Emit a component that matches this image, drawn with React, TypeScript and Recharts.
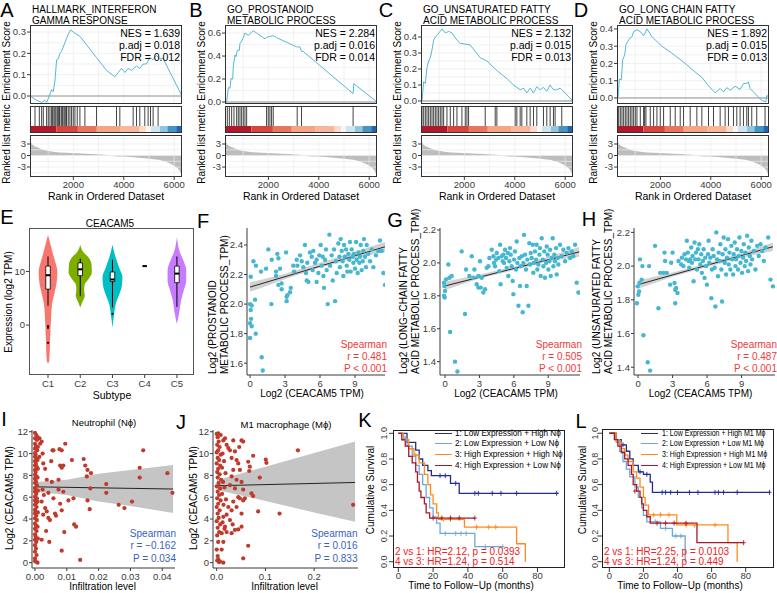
import React from 'react';
import { ComposedChart, Line, Area, Scatter, XAxis, YAxis, ReferenceLine, ReferenceArea } from 'recharts';

const FONT = '"Liberation Sans", Arial, Helvetica, sans-serif';
const INK = '#3a3a3a';
const PAD = 6;

// ---------- A-D : GSEA ----------
const gseaTitles = [
  ['HALLMARK_INTERFERON', 'GAMMA RESPONSE'],
  ['GO_PROSTANOID', 'METABOLIC PROCESS'],
  ['GO_UNSATURATED FATTY', 'ACID METABOLIC PROCESS'],
  ['GO_LONG CHAIN FATTY', 'ACID METABOLIC PROCESS'],
];
const gseaStats = [
  ['1.639', '0.018', '0.012'],
  ['2.284', '0.016', '0.014'],
  ['2.132', '0.015', '0.013'],
  ['1.892', '0.015', '0.013'],
];
const esA = [[200, 0], [464, -0.02], [662, -0.03], [794, -0.02], [860, -0.03], [966, 0], [1058, 0.03], [1124, 0.02], [1190, 0.07], [1256, 0.17], [1322, 0.175], [1388, 0.2], [1454, 0.21], [1586, 0.25], [1718, 0.29], [1810, 0.31], [1916, 0.3], [2180, 0.28], [2840, 0.18], [2972, 0.16], [3236, 0.12], [3566, 0.09], [3698, 0.11], [3830, 0.13], [3962, 0.11], [4094, 0.13], [4226, 0.12], [4424, 0.14], [4556, 0.13], [4688, 0.15], [4820, 0.15], [4952, 0.18], [5084, 0.17], [5216, 0.19], [5348, 0.175], [5480, 0.175], [6230, 0]];
const esB = [[200, 0], [266, 0], [332, 0.125], [398, 0.12], [438, 0.205], [504, 0.2], [530, 0.31], [596, 0.41], [636, 0.395], [688, 0.45], [768, 0.45], [794, 0.51], [860, 0.53], [926, 0.56], [992, 0.6], [1124, 0.58], [1322, 0.62], [1454, 0.6], [1784, 0.55], [1876, 0.565], [1982, 0.57], [2114, 0.577], [2246, 0.56], [3038, 0.48], [3170, 0.48], [3236, 0.44], [3302, 0.44], [5282, 0.073], [5308, 0.16], [6230, 0]];
const esC = [[200, 0], [240, 0], [306, 0.12], [372, 0.11], [438, 0.21], [504, 0.25], [570, 0.27], [636, 0.32], [702, 0.38], [768, 0.4], [834, 0.41], [1032, 0.45], [1164, 0.425], [1296, 0.435], [1428, 0.425], [1626, 0.38], [1758, 0.36], [2154, 0.35], [2550, 0.27], [2814, 0.25], [3210, 0.19], [3606, 0.14], [3870, 0.1], [4134, 0.07], [4266, 0.08], [4398, 0.05], [4530, 0.08], [4662, 0.05], [4794, 0.09], [4926, 0.07], [5058, 0.085], [5190, 0.06], [5322, 0.1], [5454, 0.07], [5586, 0.07], [5718, 0.08], [5916, 0.05], [6230, 0]];
const esD = [[200, 0], [240, 0], [292, 0.11], [372, 0.105], [424, 0.22], [504, 0.25], [556, 0.31], [636, 0.33], [728, 0.35], [794, 0.355], [860, 0.385], [992, 0.395], [1124, 0.385], [1256, 0.36], [1388, 0.4], [1586, 0.355], [1982, 0.3], [2378, 0.26], [2906, 0.2], [3302, 0.15], [3566, 0.12], [3830, 0.07], [4094, 0.03], [4292, 0.055], [4424, 0.035], [4556, 0.06], [4688, 0.045], [4886, 0.068], [5084, 0.05], [5216, 0.083], [5348, 0.085], [5414, 0.093], [5480, 0.055], [5942, -0.014], [6100, -0.023], [6140, 0.015], [6230, 0.005]];

const hitsA = [398, 570, 662, 728, 860, 926, 992, 1058, 1098, 1150, 1190, 1230, 1282, 1322, 1362, 1388, 1454, 1494, 1546, 1586, 1626, 1652, 1718, 1784, 1850, 1916, 1982, 2074, 2180, 2378, 2840, 3632, 3764, 4292, 4424, 4556, 4754, 4886, 4980, 5084, 5282];
const hitsB = [292, 372, 464, 556, 662, 728, 794, 860, 926, 992, 1058, 1850, 1916, 1982, 2048, 2114, 3064, 3236, 5282];
const hitsC = [240, 306, 372, 438, 504, 570, 636, 702, 768, 834, 900, 966, 1032, 1098, 1230, 1362, 1494, 1626, 1824, 1956, 2022, 2088, 2748, 3144, 3210, 3936, 4002, 4134, 4200, 4398, 4530, 4662, 4794, 5058, 5190, 5322, 5454, 5520, 5784];
const hitsD = [266, 332, 398, 464, 530, 596, 662, 728, 794, 860, 926, 992, 1124, 1256, 1296, 1348, 1520, 1652, 1784, 1916, 2048, 2312, 2510, 2708, 2840, 3104, 3368, 3566, 3830, 4028, 4292, 4490, 4622, 4820, 4952, 5084, 5216, 5348, 5414, 5546, 5744, 6074];

const rankedMetric = [[200, 4.3], [266, 3.2], [332, 2.7], [464, 2.2], [728, 1.5], [1124, 1.0], [1652, 0.7], [2444, 0.45], [2972, 0.25], [3368, 0.05], [3434, -0.15], [4292, -0.45], [4952, -0.85], [5480, -1.4], [5744, -2.0], [5942, -2.8], [6113, -3.8], [6180, -4.7], [6230, -5.5]];
const colourBar: [number, number, string][] = [
  [200, 1250, '#b2182b'], [1250, 2100, '#d6453d'], [2100, 2850, '#e8765c'], [2850, 3800, '#f4a582'],
  [3800, 4550, '#f7b79b'], [4550, 4800, '#fddbc7'], [4800, 5000, '#f7f7f7'], [5000, 5350, '#d1e5f0'],
  [5350, 5650, '#92c5de'], [5650, 6000, '#4393c3'], [6000, 6230, '#2166ac'],
];
const rankTicks = [2000, 4000, 6000];

// ---------- E : violin ----------
const subtypes = ['C1', 'C2', 'C3', 'C4', 'C5'];
const violinC1 = [[-7.2, 0], [-6.6, 0.04], [-3.5, 0.06], [-0.4, 0.08], [2, 0.1], [3.9, 0.125], [5.7, 0.19], [7.6, 0.26], [10, 0.29], [11, 0.26], [13.1, 0.16], [15, 0.08], [16.8, 0]];
const violinC2 = [[3.3, 0], [4.2, 0.06], [5.5, 0.14], [6.6, 0.12], [7.6, 0.14], [8.6, 0.26], [9.8, 0.36], [11.3, 0.35], [12.6, 0.26], [13.6, 0.1], [15, 0]];
const violinC3 = [[-0.5, 0], [2, 0.05], [3.9, 0.1], [5.7, 0.21], [7.3, 0.29], [8.9, 0.31], [10.7, 0.21], [12.6, 0.1], [15, 0]];
const violinC5 = [[0.2, 0], [2.6, 0.08], [4.5, 0.125], [6.4, 0.21], [8.2, 0.29], [10.2, 0.29], [11.9, 0.21], [13.8, 0.08], [16.4, 0]];
// [position, lower whisker, q1, median, q3, upper whisker]
const boxStats = [[1, 3.6, 6.7, 9.3, 11.0, 12.8], [2, 5.4, 9.2, 10.4, 11.6, 12.4], [3, 3.3, 8.1, 8.5, 9.9, 12.2], [4, 11.0, 11.0, 11.0, 11.0, 11.0], [5, 3.4, 7.9, 9.6, 11.0, 12.8]];
const outliersE = [[1, -0.2], [1, -0.5], [1, -3.3], [3, 2.1]];

// ---------- F-H : correlation ----------
const fPts = [[0.06, 2.185], [0, 2.0], [0.14, 1.99], [0.06, 1.96], [0.09, 1.9], [0, 1.87], [0.14, 1.85], [0, 1.77], [0.49, 1.8], [0.29, 2.29], [0.51, 2.26], [1.0, 1.64], [1.09, 1.55], [0.43, 2.03], [0.94, 2.22], [1.37, 2.24], [1.57, 2.37], [1.86, 2.3], [1.83, 2.0], [2.34, 2.34], [2.43, 2.31], [2.57, 2.24], [2.23, 2.22], [2.23, 2.19], [2.71, 2.14], [2.43, 2.13], [3.2, 2.06], [3.14, 2.02], [3.43, 2.08], [3.49, 2.11], [3.09, 2.35], [3.77, 2.22], [3.71, 2.26], [4.0, 2.3], [4.06, 2.26], [4.29, 2.33], [4.43, 2.29], [4.57, 2.25], [4.71, 2.4], [4.8, 2.21], [4.86, 2.16], [4.91, 2.28], [5.0, 2.15], [5.14, 2.35], [5.29, 2.32], [5.37, 2.23], [5.43, 2.36], [5.57, 2.28], [5.71, 2.3], [5.71, 2.15], [5.86, 2.21], [5.94, 2.33], [6.06, 2.4], [6.14, 2.26], [6.23, 2.32], [6.29, 2.19], [6.34, 2.11], [6.43, 2.3], [6.51, 2.37], [6.57, 2.23], [6.66, 2.0], [6.8, 2.47], [6.86, 2.26], [7.0, 2.33], [7.09, 2.16], [7.2, 2.37], [7.29, 2.02], [7.37, 2.29], [7.43, 2.21], [7.57, 2.41], [7.66, 2.32], [7.71, 2.25], [7.77, 2.44], [7.86, 2.36], [7.94, 2.29], [8.0, 2.19], [8.06, 2.4], [8.14, 2.32], [8.23, 2.37], [8.29, 2.26], [8.34, 2.22], [8.43, 2.34], [8.51, 2.3], [8.57, 2.42], [8.63, 2.22], [8.71, 2.37], [8.8, 2.32], [8.86, 2.28], [8.91, 2.34], [9.0, 2.24], [9.09, 2.42], [9.14, 2.3], [9.23, 2.21], [9.29, 2.35], [9.37, 2.28], [9.43, 2.32], [9.49, 2.4], [9.57, 2.23], [9.66, 2.29], [9.71, 2.36], [9.77, 2.44], [9.86, 2.32], [9.94, 2.25], [10.0, 2.4], [10.14, 2.34], [10.29, 2.29], [10.43, 2.37], [10.57, 2.25], [10.8, 2.33], [11.0, 2.36], [11.14, 2.43], [11.29, 2.36], [11.43, 2.21], [11.57, 2.13], [2.71, 2.1], [3.14, 2.05]];
const gPts = [[-0.09, 1.88], [-0.06, 1.86], [0, 1.83], [-0.09, 1.8], [-0.03, 1.79], [0.09, 1.9], [0.29, 1.99], [0.38, 1.91], [0.44, 1.58], [0.58, 1.92], [0.87, 1.4], [1.08, 1.34], [1.45, 2.07], [1.83, 1.96], [2.12, 1.92], [1.74, 1.69], [2.33, 2.04], [2.47, 1.91], [2.56, 1.96], [2.76, 1.87], [2.91, 1.92], [3.05, 2.01], [2.91, 1.85], [3.11, 1.85], [3.2, 1.91], [3.34, 1.82], [3.49, 1.84], [3.63, 1.97], [3.78, 1.98], [3.87, 2.03], [4.07, 2.08], [4.22, 2.04], [4.27, 2.0], [4.36, 1.98], [4.45, 2.02], [4.51, 2.06], [4.65, 2.03], [4.74, 1.95], [4.8, 2.11], [4.85, 1.87], [4.94, 2.04], [5.03, 2.01], [5.09, 2.05], [5.15, 2.0], [5.23, 2.08], [5.32, 2.03], [5.38, 1.97], [5.47, 2.06], [5.52, 1.92], [5.61, 2.01], [5.67, 2.09], [5.73, 2.05], [5.81, 1.98], [5.9, 1.89], [5.96, 1.81], [6.02, 2.02], [6.1, 2.07], [6.19, 1.96], [6.25, 2.13], [6.31, 2.0], [6.4, 1.74], [6.48, 2.03], [6.54, 1.86], [6.6, 1.98], [6.69, 2.04], [6.77, 1.7], [6.83, 2.0], [6.89, 2.17], [6.98, 2.05], [7.06, 1.96], [7.12, 1.86], [7.18, 2.02], [7.27, 1.74], [7.35, 2.12], [7.41, 1.99], [7.47, 2.06], [7.56, 2.03], [7.65, 2.11], [7.7, 1.94], [7.76, 2.0], [7.85, 2.07], [7.94, 2.02], [7.99, 2.11], [8.05, 1.96], [8.14, 1.99], [8.23, 2.05], [8.28, 2.09], [8.34, 1.92], [8.43, 2.15], [8.52, 2.02], [8.58, 1.98], [8.66, 2.07], [8.72, 1.91], [8.81, 2.0], [8.87, 2.1], [8.95, 2.05], [9.01, 1.96], [9.1, 2.01], [9.16, 2.08], [9.22, 1.92], [9.3, 2.03], [9.39, 2.15], [9.45, 1.98], [9.53, 2.05], [9.59, 2.01], [9.68, 2.09], [9.74, 1.93], [9.83, 2.03], [9.88, 1.99], [10.03, 2.11], [10.17, 2.04], [10.32, 2.08], [10.47, 2.01], [10.61, 2.06], [10.76, 2.09], [10.9, 2.03], [11.05, 2.07], [11.19, 2.04], [11.34, 2.11], [11.48, 1.88], [11.63, 1.82]];
const hPts = [[-0.1, 1.78], [0.03, 1.83], [0.09, 1.85], [-0.03, 1.88], [0.12, 1.9], [0.17, 2.04], [0.32, 1.92], [0.47, 1.59], [0.38, 2.0], [0.84, 1.43], [1.05, 1.38], [0.96, 2.0], [1.48, 2.12], [1.77, 1.75], [1.92, 1.96], [2.21, 1.96], [2.3, 2.08], [2.35, 2.03], [2.5, 1.96], [2.79, 1.89], [2.88, 2.02], [3.0, 2.08], [3.17, 1.9], [3.23, 1.86], [3.31, 1.87], [3.43, 1.84], [3.23, 1.78], [3.52, 2.03], [3.75, 2.01], [3.81, 2.05], [3.95, 2.0], [4.04, 2.07], [4.16, 2.04], [4.24, 2.15], [4.33, 2.08], [4.39, 2.03], [4.45, 1.99], [4.53, 2.04], [4.62, 2.11], [4.68, 2.02], [4.74, 2.06], [4.83, 1.91], [4.91, 2.14], [4.97, 2.04], [5.03, 2.08], [5.12, 1.98], [5.2, 2.1], [5.26, 2.04], [5.32, 2.13], [5.41, 2.01], [5.49, 2.07], [5.55, 1.96], [5.64, 2.03], [5.7, 2.1], [5.78, 1.93], [5.84, 2.05], [5.9, 2.0], [5.99, 1.89], [6.08, 2.07], [6.13, 2.15], [6.19, 2.02], [6.28, 2.05], [6.37, 1.81], [6.42, 1.98], [6.48, 2.1], [6.57, 2.06], [6.66, 1.99], [6.72, 1.76], [6.8, 2.2], [6.86, 2.04], [6.95, 1.94], [7.01, 2.08], [7.09, 2.03], [7.15, 2.13], [7.24, 1.98], [7.3, 1.79], [7.35, 2.07], [7.44, 2.17], [7.53, 2.02], [7.59, 2.1], [7.65, 1.95], [7.73, 2.05], [7.82, 2.16], [7.88, 2.01], [7.94, 2.08], [8.02, 1.98], [8.11, 2.12], [8.17, 2.04], [8.26, 1.95], [8.31, 2.07], [8.4, 2.14], [8.46, 2.0], [8.52, 2.04], [8.6, 2.1], [8.69, 1.98], [8.75, 2.06], [8.81, 2.17], [8.9, 2.02], [8.98, 2.09], [9.04, 1.96], [9.13, 2.05], [9.19, 2.13], [9.27, 2.0], [9.33, 2.08], [9.39, 2.03], [9.48, 2.18], [9.56, 1.97], [9.62, 2.11], [9.71, 2.06], [9.77, 2.01], [9.85, 2.15], [9.91, 2.04], [10.06, 2.09], [10.2, 1.98], [10.35, 2.12], [10.49, 2.06], [10.64, 2.13], [10.78, 2.09], [10.93, 2.03], [11.08, 2.11], [11.31, 2.17], [11.51, 1.92], [11.72, 1.88]];
const fBand = [[0, 2.083, 2.147], [3, 2.168, 2.205], [6, 2.248, 2.28], [9, 2.31, 2.355], [11.57, 2.355, 2.42]];
const gBand = [[0, 1.835, 1.885], [3, 1.905, 1.93], [6, 1.957, 1.978], [9, 2.01, 2.038], [11.7, 2.037, 2.097]];
const hBand = [[0, 1.865, 1.915], [3, 1.937, 1.962], [6, 1.995, 2.016], [9, 2.05, 2.078], [11.72, 2.09, 2.14]];
const fFit = [[0, 2.115], [11.57, 2.388]];
const gFit = [[0, 1.86], [11.7, 2.067]];
const hFit = [[0, 1.89], [11.72, 2.115]];

// ---------- I-J : infiltration ----------
const iPts = [[0, 11.9], [0.0004, 11.7], [0, 11.4], [0.0006, 11.25], [0, 10.9], [0.0003, 10.7], [0, 10.45], [0.0007, 10.3], [0, 10.05], [0.0002, 9.9], [0, 9.7], [0.0005, 9.55], [0, 9.3], [0.0003, 9.05], [0, 8.9], [0.0006, 8.75], [0, 8.5], [0.0002, 8.3], [0, 8.05], [0.0005, 7.9], [0, 7.7], [0.0003, 7.45], [0, 7.3], [0.0006, 7.1], [0, 6.85], [0.0002, 6.7], [0, 6.5], [0.0004, 6.3], [0, 6.05], [0.0006, 5.9], [0, 5.7], [0.0003, 5.45], [0, 5.3], [0.0005, 5.1], [0, 4.85], [0.0002, 4.7], [0, 4.5], [0.0004, 4.3], [0, 4.05], [0.0006, 3.9], [0, 3.6], [0.0003, 3.4], [0, 3.1], [0.0005, 2.9], [0, 2.6], [0.0002, 2.4], [0, 2.1], [0.0004, 1.9], [0, 1.6], [0.0003, 1.3], [0, 1.0], [0.0005, 0.7], [0, 0.4], [0.0002, 0.1], [0.0008, 11.5], [0.0009, 10.6], [0.0008, 9.4], [0.0009, 8.6], [0.0008, 7.8], [0.0009, 6.6], [0.0008, 5.6], [0.0009, 4.6], [0.0008, 3.3], [0.0009, 2.2], [0.0008, 0.0], [0, 0.15],
  [0.0014, 9.7], [0.0016, 10.9], [0.0021, 11.1], [0.0014, 11.4], [0.0024, 10.0], [0.0026, 9.1], [0.0032, 8.6], [0.0037, 7.6], [0.0024, 6.7], [0.0028, 6.2], [0.0021, 5.6], [0.0032, 5.0], [0.0026, 4.4], [0.0037, 4.7], [0.0042, 4.1], [0.0047, 3.9], [0.0035, 2.9], [0.0021, 2.1], [0.0045, 1.9], [0.0053, 7.4], [0.0055, 10.3], [0.0058, 10.3], [0.0051, 9.3], [0.0042, 6.4], [0.0058, 5.9], [0.0063, 4.5], [0.0066, 4.3], [0.0074, 7.6], [0.0077, 10.4], [0.0084, 10.3], [0.0079, 8.9], [0.0084, 8.7], [0.0089, 8.9], [0.0074, 6.7], [0.0079, 5.4], [0.0084, 4.8], [0.0089, 6.5], [0.0092, 2.8], [0.0095, 10.9], [0.0084, 1.1], [0.0105, 5.7], [0.0116, 9.4], [0.0121, 5.9], [0.0123, 3.5], [0.0129, 3.3], [0.0142, 0.25], [0.0153, 9.5], [0.0158, 8.9], [0.0163, 7.9], [0.0165, 8.5], [0.0165, 5.7], [0.0172, 4.9], [0.0174, 6.8], [0.0176, 8.2], [0.0224, 6.4], [0.0224, 7.2], [0.0263, 5.3], [0.0281, 5.0], [0.0305, 5.6], [0.0329, 8.7], [0.0329, 7.8], [0.034, 10.3], [0.0416, 8.2], [0.0432, 6.4]];
const jPts = [[0, 11.8], [0.002, 11.5], [0.004, 11.1], [0.001, 10.8], [0.006, 10.6], [0.003, 10.3], [0, 10.1], [0.008, 9.9], [0.002, 9.6], [0.005, 9.4], [0, 9.1], [0.007, 8.9], [0.003, 8.6], [0.001, 8.3], [0.006, 8.1], [0.002, 7.8], [0.009, 7.6], [0.004, 7.3], [0, 7.0], [0.007, 6.8], [0.002, 6.5], [0.005, 6.2], [0.001, 5.9], [0.008, 5.7], [0.003, 5.4], [0, 5.1], [0.006, 4.8], [0.002, 4.5], [0.004, 4.1], [0, 3.8], [0.007, 3.5], [0.002, 3.2], [0.005, 2.8], [0.001, 2.5], [0.003, 1.9], [0, 1.2], [0.002, 0.6], [0.001, 0.2], [0.0045, 0.05], [0.012, 10.0], [0.015, 9.3], [0.011, 8.7], [0.018, 8.2], [0.013, 7.4], [0.016, 6.9], [0.011, 6.3], [0.019, 5.8], [0.014, 5.3], [0.012, 3.7], [0.016, 3.1],
  [0.0034, 11.85], [0.0082, 11.7], [0.0136, 11.2], [0.017, 11.4], [0.0204, 10.8], [0.0238, 10.5], [0.0272, 10.3], [0.0306, 9.6], [0.034, 11.2], [0.0374, 10.2], [0.0408, 9.4], [0.0442, 9.1], [0.0476, 8.5], [0.051, 11.2], [0.0544, 11.1], [0.0463, 10.6], [0.034, 8.5], [0.0306, 7.9], [0.0272, 7.1], [0.0374, 6.8], [0.0408, 7.6], [0.051, 7.4], [0.0544, 6.7], [0.0442, 6.0], [0.034, 5.6], [0.0238, 5.1], [0.0306, 4.8], [0.0204, 4.4], [0.0272, 3.9], [0.0136, 4.2], [0.017, 3.3], [0.0102, 2.7], [0.0204, 2.8], [0.0306, 2.7], [0.0374, 3.0], [0.0442, 3.05], [0.051, 3.3], [0.0136, 1.9], [0.0102, 1.2], [0.0068, 0.1], [0.0034, 0.3], [0.0136, 0.0], [0.0646, 9.25], [0.068, 8.8], [0.0748, 9.8], [0.0667, 8.4], [0.0714, 6.35], [0.0748, 6.1], [0.085, 4.7], [0.0884, 7.8], [0.1007, 9.45], [0.102, 9.15], [0.129, 4.5], [0.1667, 10.3], [0.28, 5.3], [0.0646, 1.55], [0.0544, 0.4], [0.0544, 5.7], [0.0578, 5.9], [0.0476, 5.9], [0.0408, 5.1], [0.051, 4.5], [0.0327, 3.5]];
const iBand = [[0, 6.5, 7.4], [0.01, 6.2, 7.6], [0.02, 5.6, 8.15], [0.03, 5.2, 8.5], [0.0434, 4.55, 8.95]];
const jBand = [[0, 6.67, 7.55], [0.1, 5.66, 8.8], [0.2, 4.6, 10.06], [0.284, 3.76, 11.1]];
const iFit = [[0, 6.95], [0.0434, 6.75]];
const jFit = [[0, 7.05], [0.284, 7.35]];

// ---------- K-L : survival ----------
const kmColors = ['#1f2d8f', '#6fa8d8', '#ff8a1c', '#a8172a'];
const kCurves = [
  [[0, 1], [5, 0.93], [10, 0.87], [12, 0.8], [14, 0.75], [17, 0.71], [19, 0.67], [30, 0.61], [35, 0.533], [92, 0.533]],
  [[0, 1], [3, 0.96], [5, 0.9], [8, 0.82], [10, 0.75], [12, 0.68], [14, 0.6], [16, 0.5], [18, 0.42], [20, 0.35], [22, 0.3], [24, 0.22], [44, 0.117], [60, 0.117]],
  [[0, 1], [3, 0.95], [6, 0.88], [9, 0.83], [12, 0.77], [15, 0.68], [17, 0.6], [18.5, 0.52], [20, 0.45], [22, 0.38], [23, 0.33], [38, 0.27], [68, 0.14], [73, 0]],
  [[0, 1], [2, 0.95], [4, 0.9], [6, 0.82], [8, 0.77], [10, 0.7], [11, 0.62], [12, 0.55], [13, 0.5], [15, 0.45], [16, 0.38], [18, 0.34], [44, 0.34]],
];
const kCensor = [
  [[24, 0.67], [27, 0.67], [33, 0.61], [44, 0.533], [46, 0.533], [54, 0.533], [59, 0.533], [68, 0.533], [91, 0.533]],
  [[4, 0.96], [27, 0.22], [33, 0.22], [36, 0.22], [39, 0.22], [50, 0.117], [60, 0.117]],
  [[10, 0.83], [26, 0.33], [30, 0.33], [45, 0.27], [52, 0.27], [56, 0.27]],
  [[20, 0.34], [25, 0.34], [30, 0.34], [35, 0.34], [44, 0.34]],
];
const lCurves = [
  [[0, 1], [4, 0.95], [7, 0.91], [10, 0.86], [12, 0.8], [14, 0.75], [17, 0.7], [20, 0.68], [24, 0.62], [25.3, 0.54], [94, 0.54]],
  [[0, 1], [3, 0.95], [6, 0.86], [8, 0.78], [10, 0.72], [12, 0.66], [15, 0.58], [17, 0.5], [19, 0.42], [20, 0.36], [22, 0.31], [30, 0.26], [37, 0.2], [44.5, 0]],
  [[0, 1], [4, 0.93], [7, 0.88], [9, 0.83], [11, 0.78], [14, 0.7], [16, 0.65], [18, 0.58], [20, 0.5], [21, 0.44], [23, 0.365], [39.6, 0.286], [69.6, 0.148], [75, 0]],
  [[0, 1], [3, 0.95], [5, 0.9], [7, 0.85], [9, 0.8], [11, 0.75], [13, 0.68], [14, 0.6], [16, 0.55], [18, 0.5], [19, 0.45], [20, 0.4], [22, 0.35], [24, 0.3], [51.4, 0.148], [78.8, 0.148]],
];
const lCensor = [
  [[8, 0.91], [18, 0.7], [22, 0.68], [31, 0.54], [33, 0.54], [36, 0.54], [40, 0.54], [47, 0.54], [52, 0.54], [62, 0.54], [64, 0.54], [67, 0.54], [75, 0.54], [94, 0.54]],
  [[27, 0.31], [33, 0.26], [39, 0.2], [42, 0.2]],
  [[26, 0.365], [30, 0.365], [35, 0.365], [45, 0.286], [50, 0.286], [62, 0.286]],
  [[15, 0.55], [28, 0.3], [33, 0.3], [38, 0.3], [45, 0.3], [78.8, 0.148]],
];
const kLegend = ['1: Low Expression + High N\u03d5', '2: Low Expression + Low N\u03d5', '3: High Expression + High N\u03d5', '4: High Expression + Low N\u03d5'];
const lLegend = ['1: Low Expression + High M1 M\u03d5', '2: Low Expression + Low M1 M\u03d5', '3: High Expression + High M1 M\u03d5', '4: High Expression + Low M1 M\u03d5'];

// ---------- helpers ----------
function frame(x: number, y: number, w: number, h: number, yW: number, xH: number) {
  return {
    style: { position: 'absolute' as const, left: x - yW - PAD, top: y - PAD },
    width: PAD + yW + w + PAD,
    height: PAD + h + xH + PAD,
    margin: { top: PAD, right: PAD, bottom: PAD, left: PAD },
  };
}

const tickStyle = { fontSize: 9.5, fill: INK, fontFamily: FONT };
const axisBase = { tick: tickStyle, tickLine: { stroke: INK }, tickSize: 3, interval: 0 as const, allowDataOverflow: true };

function T({ x, y, children, size = 10, color = '#000', anchor = 'middle', rotate = false, sx = 1 }: any) {
  const tx = anchor === 'start' ? '0' : anchor === 'end' ? '-100%' : '-50%';
  return (
    <div style={{ position: 'absolute', left: x, top: y, fontSize: size, color, lineHeight: 1, whiteSpace: 'nowrap', transformOrigin: anchor === 'start' ? '0 50%' : '50% 50%', transform: `translate(${tx}, -50%)${rotate ? ' rotate(-90deg)' : ''}${sx !== 1 ? ` scaleX(${sx})` : ''}` }}>
      {children}
    </div>
  );
}

function Box({ x, y, w, h, color = '#333' }: any) {
  return <div style={{ position: 'absolute', left: x, top: y, width: w, height: h, border: `1px solid ${color}`, boxSizing: 'border-box', pointerEvents: 'none' }} />;
}

const dotShape = (color: string, r: number) => (p: any) => <circle cx={p.cx} cy={p.cy} r={r} fill={color} />;
const rugShape = (p: any) => <line x1={p.cx} x2={p.cx} y1={p.cy - 10} y2={p.cy + 10} stroke="#111" strokeWidth={0.8} />;
const censorShape = (color: string) => (p: any) => (
  <path d={`M${p.cx},${p.cy - 2.5}V${p.cy + 2.5}M${p.cx - 2},${p.cy}H${p.cx + 2}`} stroke={color} strokeWidth={0.9} fill="none" />
);

// ---------- GSEA panel ----------
const gseaLeft = [30, 225, 421, 617];
const GW = 152;
const RANK_DOMAIN = [280, 6310];
const esDomains = [[-0.0375, 0.333], [-0.017, 0.67], [-0.019, 0.475], [-0.035, 0.423]];
const esTicks = [[0, 0.1, 0.2, 0.3], [0, 0.2, 0.4, 0.6], [0, 0.1, 0.2, 0.3, 0.4], [0, 0.1, 0.2, 0.3, 0.4]];
const esGrid = [
  [0.05, 0.1, 0.15, 0.2, 0.25, 0.3],
  [0.1, 0.2, 0.3, 0.4, 0.5, 0.6],
  [0.05, 0.1, 0.15, 0.2, 0.25, 0.3, 0.35, 0.4, 0.45],
  [0.05, 0.1, 0.15, 0.2, 0.25, 0.3, 0.35, 0.4],
];
const rankGrid = [1000, 2000, 3000, 4000, 5000, 6000];
const metricGrid = [-4.5, -3, -1.5, 0, 1.5, 3, 4.5];

function GseaPanel({ i }: { i: number }) {
  const x0 = gseaLeft[i];
  const es = [esA, esB, esC, esD][i].map(([r, v]) => ({ r: r + 80, es: v }));
  const hits = [hitsA, hitsB, hitsC, hitsD][i].map((r) => ({ r: r + 80, y: 0.63 }));
  const metric = rankedMetric.map(([r, m]) => ({ r: r + 80, m }));
  const fEs = frame(x0, 25, GW, 79, 30, 0);
  const fRug = frame(x0, 106, GW, 27, 0, 0);
  const fRk = frame(x0, 135, GW, 42, 30, 16);
  const [nes, padj, fdr] = gseaStats[i];
  return (
    <>
      <div style={fEs.style}>
        <ComposedChart width={fEs.width} height={fEs.height} margin={fEs.margin}>
          <XAxis type="number" dataKey="r" domain={RANK_DOMAIN} hide allowDataOverflow />
          <YAxis type="number" domain={esDomains[i]} ticks={esTicks[i]} width={30} tickMargin={1} axisLine={false} tickFormatter={(v: number) => v.toFixed(1)} {...axisBase} />
          {rankGrid.map((g) => <ReferenceLine key={'v' + g} x={g} stroke="#ebebeb" strokeWidth={0.7} />)}
          {esGrid[i].map((g) => <ReferenceLine key={'h' + g} y={g} stroke="#ebebeb" strokeWidth={0.7} />)}
          <ReferenceLine y={0} stroke="#8c8c8c" strokeWidth={1} />
          <Line data={es} dataKey="es" type="linear" stroke="#55b8d6" strokeWidth={1} dot={false} isAnimationActive={false} />
        </ComposedChart>
      </div>
      <div style={fRug.style}>
        <ComposedChart width={fRug.width} height={fRug.height} margin={fRug.margin}>
          <XAxis type="number" dataKey="r" domain={RANK_DOMAIN} hide allowDataOverflow />
          <YAxis type="number" dataKey="y" domain={[0, 1]} hide allowDataOverflow />
          {colourBar.map(([a, b, c]) => <ReferenceArea key={a} x1={a + 80} x2={b + 80} y1={0} y2={0.26} fill={c} fillOpacity={1} stroke="none" />)}
          <Scatter data={hits} shape={rugShape} isAnimationActive={false} />
        </ComposedChart>
      </div>
      <div style={fRk.style}>
        <ComposedChart width={fRk.width} height={fRk.height} margin={fRk.margin}>
          <XAxis type="number" dataKey="r" domain={RANK_DOMAIN} ticks={rankTicks} height={16} axisLine={false} tickMargin={1} {...axisBase} />
          <YAxis type="number" domain={[-5.6, 5.35]} ticks={[-3, 0, 3]} width={30} tickMargin={1} axisLine={false} {...axisBase} />
          {rankGrid.map((g) => <ReferenceLine key={'v' + g} x={g} stroke="#ebebeb" strokeWidth={0.7} />)}
          {metricGrid.map((g) => <ReferenceLine key={'h' + g} y={g} stroke="#ebebeb" strokeWidth={0.7} />)}
          <Area data={metric} dataKey="m" type="monotone" baseValue={0} fill="#bdbdbd" fillOpacity={1} stroke="none" isAnimationActive={false} />
        </ComposedChart>
      </div>
      <Box x={x0} y={25} w={GW} h={79} />
      <Box x={x0} y={106} w={GW} h={27} />
      <Box x={x0} y={135} w={GW} h={42} />
      <T x={x0 + 2} y={10} anchor="start" size={10}>{gseaTitles[i][0]}</T>
      <T x={x0 + 2} y={20.5} anchor="start" size={10}>{gseaTitles[i][1]}</T>
      <T x={x0 + GW - 2} y={33} anchor="end" size={10.5}>{`NES = ${nes}`}</T>
      <T x={x0 + GW - 2} y={45} anchor="end" size={10.5}>{`p.adj = ${padj}`}</T>
      <T x={x0 + GW - 2} y={57} anchor="end" size={10.5}>{`FDR = ${fdr}`}</T>
      <T x={x0 - 23} y={61} rotate size={10}>Enrichment Score</T>
      <T x={x0 - 23} y={144} rotate size={10}>Ranked list metric</T>
      <T x={x0 + GW / 2} y={195.5} size={10.5}>Rank in Ordered Dataset</T>
    </>
  );
}

// ---------- E panel ----------
const violins = [
  { pos: 1, color: '#F8766D', profile: violinC1 },
  { pos: 2, color: '#7CAE00', profile: violinC2 },
  { pos: 3, color: '#00BFC4', profile: violinC3 },
  { pos: 5, color: '#C77CFF', profile: violinC5 },
];
const BW = 0.07;

function ViolinPanel() {
  const f = frame(29, 228, 165, 147, 30, 16);
  return (
    <>
      <div style={f.style}>
        <ComposedChart layout="vertical" width={f.width} height={f.height} margin={f.margin}>
          <XAxis type="number" domain={[0.41, 5.53]} ticks={[1, 2, 3, 4, 5]} tickFormatter={(v: number) => subtypes[v - 1]} height={16} axisLine={false} {...axisBase} />
          <YAxis type="number" dataKey="y" domain={[-9.3, 18.1]} ticks={[0, 10]} width={30} tickMargin={1} axisLine={false} reversed {...axisBase} />
          {violins.map((v) => (
            <Area key={'vio' + v.pos} data={v.profile.map(([y, w]) => ({ y, r: [v.pos - w, v.pos + w] }))} dataKey="r" type="monotone" fill={v.color} fillOpacity={1} stroke="none" isAnimationActive={false} />
          ))}
          {boxStats.filter((b) => b[2] !== b[4]).map(([c, , q1, , q3]) => (
            <Area key={'bx' + c} data={[{ y: q1, r: [c - BW, c + BW] }, { y: q3, r: [c - BW, c + BW] }]} dataKey="r" type="linear" fill="#fff" fillOpacity={1} stroke="none" isAnimationActive={false} />
          ))}
          {boxStats.filter((b) => b[2] !== b[4]).map(([c, lo, q1, , q3, hi]) => [
            <Line key={'wl' + c} data={[{ y: lo, v: c }, { y: q1, v: c }]} dataKey="v" type="linear" stroke="#000" strokeWidth={1} dot={false} isAnimationActive={false} />,
            <Line key={'wh' + c} data={[{ y: q3, v: c }, { y: hi, v: c }]} dataKey="v" type="linear" stroke="#000" strokeWidth={1} dot={false} isAnimationActive={false} />,
            <Line key={'bo' + c} data={[{ y: q1, v: c - BW }, { y: q1, v: c + BW }, { y: q3, v: c + BW }, { y: q3, v: c - BW }, { y: q1, v: c - BW }]} dataKey="v" type="linear" stroke="#000" strokeWidth={0.8} dot={false} isAnimationActive={false} />,
          ])}
          {boxStats.map(([c, , , md]) => (
            <Line key={'md' + c} data={[{ y: md, v: c - BW }, { y: md, v: c + BW }]} dataKey="v" type="linear" stroke="#000" strokeWidth={2} dot={false} isAnimationActive={false} />
          ))}
          <Scatter data={outliersE.map(([c, y]) => ({ v: c, y }))} dataKey="v" shape={dotShape('#000', 1.1)} isAnimationActive={false} />
        </ComposedChart>
      </div>
      <Box x={29} y={228} w={165} h={147} color="#555" />
      <T x={110} y={224} size={10}>CEACAM5</T>
      <T x={8.5} y={302} rotate size={10}>Expression (log2 TPM)</T>
      <T x={112} y={395} size={10.5}>Subtype</T>
    </>
  );
}

// ---------- F-H panels ----------
const corrPanels = [
  { key: 'F', x: 247, w: 138, xDom: [-0.26, 11.57], yDom: [1.52, 2.515], yTicks: [1.6, 1.8, 2.0, 2.2, 2.4], pts: fPts, band: fBand, fit: fFit, lines: ['Log2 (PROSTANOID', 'METABOLIC PROCESS_TPM)'], lx: 207, r: '0.481' },
  { key: 'G', x: 440, w: 140, xDom: [-0.44, 11.77], yDom: [1.319, 2.212], yTicks: [1.4, 1.6, 1.8, 2.0, 2.2], pts: gPts, band: gBand, fit: gFit, lines: ['Log2 (LONG\u2212CHAIN FATTY', 'ACID METABOLIC PROCESS_TPM)'], lx: 398, r: '0.505' },
  { key: 'H', x: 634, w: 141, xDom: [-0.35, 11.9], yDom: [1.354, 2.226], yTicks: [1.4, 1.6, 1.8, 2.0, 2.2], pts: hPts, band: hBand, fit: hFit, lines: ['Log2 (UNSATURATED FATTY', 'ACID METABOLIC PROCESS_TPM)'], lx: 591, r: '0.487' },
];

function CorrPanel({ c }: any) {
  const f = frame(c.x, 228, c.w, 147, 30, 16);
  const right = c.x + c.w + 2;
  return (
    <>
      <div style={f.style}>
        <ComposedChart width={f.width} height={f.height} margin={f.margin}>
          <XAxis type="number" dataKey="x" domain={c.xDom} ticks={[0, 3, 6, 9]} height={16} axisLine={{ stroke: INK }} {...axisBase} />
          <YAxis type="number" dataKey="y" domain={c.yDom} ticks={c.yTicks} width={30} tickMargin={1} axisLine={{ stroke: INK }} tickFormatter={(v: number) => v.toFixed(1)} {...axisBase} />
          <Scatter data={c.pts.map(([x, y]: number[]) => ({ x, y }))} shape={dotShape('#45b7d0', 2.2)} isAnimationActive={false} />
          <Area data={c.band.map(([x, lo, hi]: number[]) => ({ x, b: [lo, hi] }))} dataKey="b" type="linear" fill="#9a9a9a" fillOpacity={0.45} stroke="none" isAnimationActive={false} />
          <Line data={c.fit.map(([x, y]: number[]) => ({ x, y }))} dataKey="y" type="linear" stroke="#111" strokeWidth={0.9} dot={false} isAnimationActive={false} />
        </ComposedChart>
      </div>
      <div style={{ position: 'absolute', left: c.lx, top: 374, transformOrigin: '0 0', transform: 'rotate(-90deg)', fontSize: 10, lineHeight: '11.8px', whiteSpace: 'nowrap' }}>
        {c.lines.map((l: string) => <div key={l}>{l}</div>)}
      </div>
      <T x={c.x + c.w / 2 - 4} y={394} size={10}>Log2 (CEACAM5 TPM)</T>
      <T x={right} y={345} anchor="end" size={10} color="#f03a3a">Spearman</T>
      <T x={right} y={357} anchor="end" size={10} color="#f03a3a">{`r = ${c.r}`}</T>
      <T x={right} y={368.5} anchor="end" size={10} color="#f03a3a">P &lt; 0.001</T>
    </>
  );
}

// ---------- I-J panels ----------
const infilPanels = [
  { key: 'I', x: 32, w: 143, xDom: [-0.00094, 0.044], xTicks: [0, 0.01, 0.02, 0.03, 0.04], dec: 2, pts: iPts, band: iBand, fit: iFit, title: 'Neutrophil (N\u03d5)', tx: 104, ty: 423, ly: 10, r: '\u22120.162', p: '0.034', sr: 176 },
  { key: 'J', x: 213, w: 145, xDom: [-0.0076, 0.29], xTicks: [0, 0.1, 0.2], dec: 1, pts: jPts, band: jBand, fit: jFit, title: 'M1 macrophage (M\u03d5)', tx: 286, ty: 425, ly: 194, r: '0.016', p: '0.833', sr: 357.5 },
];

function InfilPanel({ c }: any) {
  const f = frame(c.x, 430, c.w, 138, 30, 16);
  return (
    <>
      <div style={f.style}>
        <ComposedChart width={f.width} height={f.height} margin={f.margin}>
          <XAxis type="number" dataKey="x" domain={c.xDom} ticks={c.xTicks} height={16} axisLine={{ stroke: INK }} tickFormatter={(v: number) => v.toFixed(c.dec)} {...axisBase} />
          <YAxis type="number" dataKey="y" domain={[-0.49, 12.16]} ticks={[0, 2, 4, 6, 8, 10, 12]} width={30} tickMargin={1} axisLine={{ stroke: INK }} {...axisBase} />
          <Scatter data={c.pts.map(([x, y]: number[]) => ({ x, y }))} shape={dotShape('#c03a2c', 2.1)} isAnimationActive={false} />
          <Area data={c.band.map(([x, lo, hi]: number[]) => ({ x, b: [lo, hi] }))} dataKey="b" type="linear" fill="#9e9e9e" fillOpacity={0.6} stroke="none" isAnimationActive={false} />
          <Line data={c.fit.map(([x, y]: number[]) => ({ x, y }))} dataKey="y" type="linear" stroke="#111" strokeWidth={0.9} dot={false} isAnimationActive={false} />
        </ComposedChart>
      </div>
      <T x={c.tx} y={c.ty} size={9.5}>{c.title}</T>
      <T x={c.ly} y={498} rotate size={10}>Log2 (CEACAM5 TPM)</T>
      <T x={c.x + c.w / 2 - 1} y={587} size={10}>Infiltration level</T>
      <T x={c.sr} y={534} anchor="end" size={10} color="#3a5fbd">Spearman</T>
      <T x={c.sr} y={546} anchor="end" size={10} color="#3a5fbd">{`r = ${c.r}`}</T>
      <T x={c.sr} y={558.5} anchor="end" size={10} color="#3a5fbd">{`P = ${c.p}`}</T>
    </>
  );
}

// ---------- K-L panels ----------
const kmPanels = [
  { key: 'K', x: 393, y: 430, w: 172, h: 138, xDom: [-3.05, 95.8], yDom: [-0.049, 1.026], curves: kCurves, censor: kCensor, legend: kLegend, lgLine: 435, lgText: 455, lgScale: 1, dx: 0, ylab: 371, hr: ['2 vs 1: HR=2.12, p = 0.0393', '4 vs 3: HR=1.24, p = 0.514'] },
  { key: 'L', x: 602, y: 429, w: 172, h: 139, xDom: [-4.3, 96.6], yDom: [-0.049, 1.033], curves: lCurves, censor: lCensor, legend: lLegend, lgLine: 641, lgText: 662, lgScale: 0.86, dx: 2, ylab: 583, hr: ['2 vs 1: HR=2.25, p = 0.0103', '4 vs 3: HR=1.24, p = 0.449'] },
];

function KmPanel({ c }: any) {
  const f = frame(c.x, c.y, c.w, c.h, 20, 16);
  const rotTick = (p: any) => {
    const bx = p.x + c.dx;
    return (
      <text x={bx} y={p.y} transform={`rotate(-90, ${bx}, ${p.y})`} textAnchor="middle" fontSize={9} fill={INK} fontFamily={FONT}>
        {Number(p.payload.value).toFixed(1)}
      </text>
    );
  };
  const rows = [433.5, 444.2, 455, 465.5];
  return (
    <>
      <div style={f.style}>
        <ComposedChart width={f.width} height={f.height} margin={f.margin}>
          <XAxis type="number" dataKey="t" domain={c.xDom} ticks={[0, 20, 40, 60, 80]} height={16} axisLine={false} {...axisBase} tickSize={4} tickMargin={0} />
          <YAxis type="number" dataKey="s" domain={c.yDom} ticks={[0, 0.2, 0.4, 0.6, 0.8, 1]} width={20} axisLine={false} {...axisBase} tickSize={4} tick={rotTick} />
          {c.curves.map((cur: number[][], k: number) => (
            <Line key={'c' + k} data={cur.map(([t, s]) => ({ t, s }))} dataKey="s" type="stepAfter" stroke={kmColors[k]} strokeWidth={1.3} dot={false} isAnimationActive={false} />
          ))}
          {c.censor.map((cs: number[][], k: number) => (
            <Scatter key={'m' + k} data={cs.map(([t, s]) => ({ t, s }))} dataKey="s" shape={censorShape(kmColors[k])} isAnimationActive={false} />
          ))}
        </ComposedChart>
      </div>
      <Box x={c.x} y={c.y} w={c.w} h={c.h} color="#222" />
      {c.legend.map((l: string, k: number) => (
        <React.Fragment key={l}>
          <div style={{ position: 'absolute', left: c.lgLine, top: rows[k] - 0.75, width: 17, height: 0, borderTop: `1.5px solid ${kmColors[k]}` }} />
          <T x={c.lgText} y={rows[k]} anchor="start" size={8.2} sx={c.lgScale}>{l}</T>
        </React.Fragment>
      ))}
      <T x={c.x + 2} y={552} anchor="start" size={10} color="#f22020">{c.hr[0]}</T>
      <T x={c.x + 2} y={562} anchor="start" size={10} color="#f22020">{c.hr[1]}</T>
      <T x={c.ylab} y={490} rotate size={10}>Cumulative Survival</T>
      <T x={c.x + c.w / 2 - 8} y={586} size={10}>Time to Follow{'\u2212'}Up (months)</T>
    </>
  );
}

const letters: [string, number, number][] = [
  ['A', 7, 9.5], ['B', 196, 9.5], ['C', 386, 9.5], ['D', 581, 9.5],
  ['E', 7, 217], ['F', 203, 221], ['G', 395, 220], ['H', 589, 219],
  ['I', 4, 419], ['J', 181, 422], ['K', 365, 420], ['L', 581, 421],
];

export default function App() {
  return (
    <div style={{ position: 'absolute', left: 0, top: 0, width: 777, height: 593, background: '#fff', fontFamily: FONT, color: '#000', overflow: 'hidden' }}>
      {[0, 1, 2, 3].map((i) => <GseaPanel key={i} i={i} />)}
      <ViolinPanel />
      {corrPanels.map((c) => <CorrPanel key={c.key} c={c} />)}
      {infilPanels.map((c) => <InfilPanel key={c.key} c={c} />)}
      {kmPanels.map((c) => <KmPanel key={c.key} c={c} />)}
      {letters.map(([l, x, y]) => <T key={l} x={x} y={y} size={20}>{l}</T>)}
    </div>
  );
}
